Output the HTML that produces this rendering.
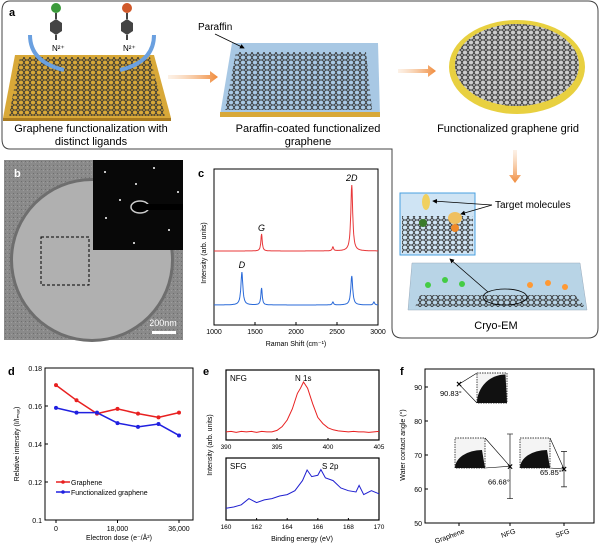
<!DOCTYPE html>
<html><head><meta charset="utf-8"><style>
html,body{margin:0;padding:0;background:#fff;width:600px;height:545px;overflow:hidden}
svg{font-family:"Liberation Sans",Arial,sans-serif}
</style></head><body>
<svg id="fig" width="600" height="545" viewBox="0 0 600 545" xmlns="http://www.w3.org/2000/svg">
<defs>
<pattern id="hex" width="6" height="5" patternUnits="userSpaceOnUse">
<path d="M0,2.5 L1.5,0 L4.5,0 L6,2.5 L4.5,5 L1.5,5 Z" fill="none" stroke="#333" stroke-width="0.9"/>
</pattern>
<pattern id="noise" width="4" height="4" patternUnits="userSpaceOnUse">
<rect width="4" height="4" fill="#8a8a8a"/><rect x="1" y="1" width="1" height="1" fill="#6e6e6e"/><rect x="3" y="2" width="1" height="1" fill="#9d9d9d"/>
</pattern>
<marker id="ah" markerWidth="6" markerHeight="6" refX="5" refY="3" orient="auto"><path d="M0,0 L6,3 L0,6 Z" fill="#000"/></marker>
<linearGradient id="og" x1="0" x2="1"><stop offset="0" stop-color="#f7d2b0" stop-opacity="0.3"/><stop offset="1" stop-color="#f08a3a"/></linearGradient>
<linearGradient id="ogv" x1="0" x2="0" y1="0" y2="1"><stop offset="0" stop-color="#f7d2b0" stop-opacity="0.3"/><stop offset="1" stop-color="#f08a3a"/></linearGradient>
</defs>

<path d="M10,1 H588 Q598,1 598,11 V328 Q598,338 588,338 H402 Q392,338 392,328 V149 H10 Q2,149 2,139 V11 Q2,1 10,1 Z" fill="none" stroke="#444" stroke-width="1"/>
<text x="9" y="16" font-size="11" font-weight="bold">a</text>

<g>
<polygon points="15,55 154,55 171,118 3,118" fill="#d8a838"/>
<polygon points="3,118 171,118 171,121 3,121" fill="#a87a20"/>
<polygon points="20,57 150,57 165,116 9,116" fill="url(#hex)"/>
</g>
<g>
<circle cx="56" cy="8" r="5" fill="#3a9a3a"/><line x1="56" y1="13" x2="56" y2="19" stroke="#444" stroke-width="2"/>
<polygon points="56,19 62,23 62,31 56,35 50,31 50,23" fill="#444"/><line x1="56" y1="35" x2="56" y2="40" stroke="#444" stroke-width="2"/>
<text x="52" y="51" font-size="8">N²⁺</text></g>
<g>
<circle cx="127" cy="8" r="5" fill="#d0582a"/><line x1="127" y1="13" x2="127" y2="19" stroke="#444" stroke-width="2"/>
<polygon points="127,19 133,23 133,31 127,35 121,31 121,23" fill="#444"/><line x1="127" y1="35" x2="127" y2="40" stroke="#444" stroke-width="2"/>
<text x="123" y="51" font-size="8">N²⁺</text></g>
<path d="M30,35 Q30,62 64,70" fill="none" stroke="#6aa0e0" stroke-width="4"/>
<path d="M154,35 Q154,62 120,70" fill="none" stroke="#6aa0e0" stroke-width="4"/>
<text x="91" y="132" font-size="11" text-anchor="middle">Graphene functionalization with</text>
<text x="91" y="145" font-size="11" text-anchor="middle">distinct ligands</text>
<polygon points="168,75 210,75 210,71 218,77 210,83 210,79 168,79" fill="url(#og)"/>

<g>
<polygon points="232,43 378,43 380,115 220,115" fill="#a8c8e4"/>
<polygon points="220,112 380,112 380,117 220,117" fill="#d8a838"/>
<polygon points="236,52 366,52 372,110 225,110" fill="url(#hex)"/>
</g>
<text x="198" y="30" font-size="10">Paraffin</text>
<line x1="215" y1="34" x2="244" y2="48" stroke="#000" stroke-width="0.8" marker-end="url(#ah)"/>
<text x="308" y="132" font-size="11" text-anchor="middle">Paraffin-coated functionalized</text>
<text x="308" y="145" font-size="11" text-anchor="middle">graphene</text>
<polygon points="398,69 428,69 428,65 436,71 428,77 428,73 398,73" fill="url(#og)"/>

<g>
<ellipse cx="517" cy="67" rx="68" ry="47" fill="#e8d040"/>
<ellipse cx="517" cy="65" rx="62" ry="41" fill="#ccc"/>
<ellipse cx="517" cy="65" rx="62" ry="41" fill="url(#hex)"/>
</g>
<text x="508" y="132" font-size="11" text-anchor="middle">Functionalized graphene grid</text>
<polygon points="513,150 517,150 517,175 521,175 515,183 509,175 513,175" fill="url(#ogv)"/>
<g>
<rect x="400" y="193" width="75" height="62" fill="#cfe4f4" stroke="#4aa0e0"/>
<rect x="402" y="216" width="71" height="37" fill="url(#hex)"/>
<ellipse cx="426" cy="202" rx="4" ry="8" fill="#f0d060"/><circle cx="423" cy="223" r="4" fill="#3a7a2a"/>
<ellipse cx="455" cy="218" rx="7" ry="6" fill="#f0c060"/><circle cx="455" cy="228" r="4" fill="#f08a2a"/>
</g>
<text x="495" y="208" font-size="10">Target molecules</text>
<line x1="492" y1="205" x2="433" y2="201" stroke="#000" stroke-width="0.8" marker-end="url(#ah)"/>
<line x1="492" y1="205" x2="461" y2="214" stroke="#000" stroke-width="0.8" marker-end="url(#ah)"/>
<g>
<polygon points="412,263 580,263 587,310 408,310" fill="#b8d4e6" stroke="#9ab" stroke-width="0.5"/>
<polygon points="420,295 575,295 585,307 415,307" fill="url(#hex)"/>
<ellipse cx="505" cy="297" rx="22" ry="8" fill="none" stroke="#000" stroke-width="0.8"/>
<circle cx="428" cy="285" r="3" fill="#4c4"/><circle cx="445" cy="280" r="3" fill="#4c4"/><circle cx="462" cy="284" r="3" fill="#4c4"/>
<circle cx="530" cy="285" r="3" fill="#f93"/><circle cx="548" cy="283" r="3" fill="#f93"/><circle cx="565" cy="287" r="3" fill="#f93"/>
</g>
<line x1="488" y1="292" x2="450" y2="259" stroke="#000" stroke-width="0.8" marker-end="url(#ah)"/>
<text x="496" y="329" font-size="11" text-anchor="middle">Cryo-EM</text>

<g>
<rect x="4" y="160" width="179" height="180" fill="url(#noise)"/>
<circle cx="92" cy="260" r="82" fill="#6e6e6e"/>
<circle cx="92" cy="260" r="79" fill="#b0b0b0"/>
<rect x="93" y="160" width="90" height="90" fill="#080808"/>
<ellipse cx="140" cy="207" rx="9" ry="6" fill="#000" stroke="#ccc" stroke-width="1.5"/>
<rect x="140" y="204" width="43" height="6" fill="#000"/>
<circle cx="105" cy="172" r="1" fill="#fff"/><circle cx="136" cy="184" r="1" fill="#fff"/><circle cx="178" cy="192" r="1" fill="#fff"/><circle cx="120" cy="200" r="1" fill="#fff"/><circle cx="106" cy="218" r="1" fill="#fff"/><circle cx="169" cy="230" r="1" fill="#fff"/><circle cx="134" cy="243" r="1" fill="#fff"/><circle cx="154" cy="168" r="1" fill="#fff"/>
<rect x="41" y="237" width="48" height="48" fill="none" stroke="#000" stroke-width="1" stroke-dasharray="3,2"/>
<text x="163" y="326" font-size="9" fill="#fff" text-anchor="middle">200nm</text>
<rect x="152" y="331" width="24" height="3" fill="#fff"/>
</g>
<text x="14" y="177" font-size="11" font-weight="bold" fill="#fff">b</text>

<g id="pc"></g>
<text x="198" y="177" font-size="11" font-weight="bold">c</text>
<g id="pd"></g>
<text x="8" y="375" font-size="11" font-weight="bold">d</text>
<g id="pe"></g>
<text x="203" y="375" font-size="11" font-weight="bold">e</text>
<g id="pf"></g>
<text x="400" y="375" font-size="11" font-weight="bold">f</text>
</svg>
<script>
// ---- data ----
const ramanTicks=[1000,1500,2000,2500,3000];
const ramanRedPeaks=[1580,2450,2680];
const ramanRedHeights=[17,4,66];
const ramanBluePeaks=[1340,1580,2450,2680,2950];
const ramanBlueHeights=[33,17,3,29,3];
const doseX=[0,6000,12000,18000,24000,30000,36000];
const graphene=[0.171,0.163,0.156,0.1585,0.156,0.154,0.1565];
const functionalized=[0.159,0.1565,0.1565,0.151,0.149,0.1505,0.1445];
const doseTicks=[0,18000,36000];
const relTicks=[0.1,0.12,0.14,0.16,0.18];
const nfgX=[390,390.5,391,391.5,392,392.5,393,393.5,394,394.5,395,395.5,396,396.5,397,397.3,397.6,398,398.5,399,399.5,400,400.5,401,401.5,402,402.5,403,403.5,404,404.5,405];
const nfgY=[0.04,0.05,0.03,0.05,0.04,0.05,0.03,0.05,0.04,0.04,0.07,0.14,0.27,0.48,0.78,0.88,1.0,0.88,0.58,0.32,0.2,0.12,0.08,0.06,0.05,0.04,0.05,0.04,0.04,0.03,0.04,0.05];
const nfgTicks=[390,395,400,405];
const sfgX=[160,160.5,161,161.5,162,162.5,163,163.5,164,164.5,165,165.3,165.6,166,166.2,166.5,167,167.5,168,168.5,168.7,169,169.5,170];
const sfgY=[0.13,0.16,0.21,0.35,0.26,0.32,0.35,0.41,0.44,0.53,0.76,1.0,0.85,0.88,1.01,0.82,0.76,0.59,0.53,0.5,0.65,0.44,0.53,0.46];
const sfgTicks=[160,162,164,166,168,170];
const angleCats=["Graphene","NFG","SFG"];
const angleVals=[90.83,66.68,65.85];
const angleErr=[0,9.5,5.2];
const angleLabels=["90.83°","66.68°","65.85°"];
const angleTicks=[50,60,70,80,90];

const NS="http://www.w3.org/2000/svg";
function mk(parent,tag,attrs,text){const e=document.createElementNS(NS,tag);for(const k in attrs)e.setAttribute(k,attrs[k]);if(text!==undefined)e.textContent=text;parent.appendChild(e);return e;}

// ---- c: Raman ----
(function(){
const g=document.getElementById('pc');
const x0=214,x1=378,y0=169,y1=325;
const sx=v=>x0+(v-1000)/2000*(x1-x0);
const box=mk(g,'rect',{x:x0,y:y0,width:x1-x0,height:y1-y0,fill:'none',stroke:'#000','stroke-width':1});

ramanTicks.forEach(t=>{mk(g,'line',{x1:sx(t),x2:sx(t),y1:y1,y2:y1-3,stroke:'#000'});
const tl=mk(g,'text',{x:sx(t),y:y1+9,'font-size':7,'text-anchor':'middle'},t);
});
function spec(peaks,hts,base,color,name){let d='';for(let v=1000;v<=3000;v+=4){let s=0;peaks.forEach((p,i)=>{const w=p===1340||p===2680?14:10;s+=hts[i]/(1+((v-p)/w)**2);});d+=(d?'L':'M')+sx(v).toFixed(1)+','+(base-s).toFixed(1);}
const p=mk(g,'path',{d:d,fill:'none',stroke:color,'stroke-width':1});
}
spec(ramanRedPeaks,ramanRedHeights,251,'#e8383a','graphene-spectrum');
spec(ramanBluePeaks,ramanBlueHeights,305,'#2a6ad8','functionalized-spectrum');
mk(g,'text',{x:sx(2680),y:181,'font-size':9,'font-style':'italic','text-anchor':'middle'},'2D');
mk(g,'text',{x:sx(1580),y:231,'font-size':9,'font-style':'italic','text-anchor':'middle'},'G');
mk(g,'text',{x:sx(1340),y:268,'font-size':9,'font-style':'italic','text-anchor':'middle'},'D');
const yl=mk(g,'text',{x:0,y:0,'font-size':7,'text-anchor':'middle',transform:'translate(206,253) rotate(-90)'},'Intensity (arb. units)');

const xl=mk(g,'text',{x:296,y:346,'font-size':7,'text-anchor':'middle'},'Raman Shift (cm⁻¹)');

})();

// ---- d: dose ----
(function(){
const g=document.getElementById('pd');
const x0=45,x1=193,y0=368,y1=520;
const sx=v=>56+v/36000*(179-56);
const sy=v=>y1-(v-0.1)/0.08*(y1-y0);
const box=mk(g,'rect',{x:x0,y:y0,width:x1-x0,height:y1-y0,fill:'none',stroke:'#000'});

relTicks.forEach(t=>{mk(g,'line',{x1:x0,x2:x0+3,y1:sy(t),y2:sy(t),stroke:'#000'});
const tl=mk(g,'text',{x:x0-3,y:sy(t)+3,'font-size':7,'text-anchor':'end'},String(t));
});
doseTicks.forEach(t=>{mk(g,'line',{x1:sx(t),x2:sx(t),y1:y1,y2:y1+3,stroke:'#000'});
const tl=mk(g,'text',{x:sx(t),y:y1+11,'font-size':7,'text-anchor':'middle'},t===0?'0':t.toLocaleString('en-US'));
});
function series(vals,color,name){let d='';vals.forEach((v,i)=>{d+=(i?'L':'M')+sx(doseX[i])+','+sy(v);});
const p=mk(g,'path',{d:d,fill:'none',stroke:color,'stroke-width':1.5,'stroke-linejoin':'round'});

vals.forEach((v,i)=>{const c=mk(g,'circle',{cx:sx(doseX[i]),cy:sy(v),r:2,fill:color});
});}
series(graphene,'#e82020','graphene');
series(functionalized,'#2020e0','functionalized');
[['#e82020','Graphene',482],['#2020e0','Functionalized graphene',492]].forEach(l=>{
const lg=mk(g,'g',{});
mk(lg,'line',{x1:56,x2:70,y1:l[2],y2:l[2],stroke:l[0],'stroke-width':1.5});mk(lg,'circle',{cx:63,cy:l[2],r:1.8,fill:l[0]});
mk(lg,'text',{x:71,y:l[2]+3,'font-size':7},l[1]);});
const yl=mk(g,'text',{x:0,y:0,'font-size':7,'text-anchor':'middle',transform:'translate(19,444) rotate(-90)'},'Relative intensity (I/Iₘₐₓ)');

const xl=mk(g,'text',{x:119,y:540,'font-size':7,'text-anchor':'middle'},'Electron dose (e⁻/Å²)');

})();

// ---- e: XPS ----
(function(){
const g=document.getElementById('pe');
function panel(xs,ys,ticks,xmin,xmax,top,bot,color,label,peak,name){
const x0=226,x1=379;
const sx=v=>x0+(v-xmin)/(xmax-xmin)*(x1-x0);
const sy=v=>bot-6-v*(bot-top-18);
const box=mk(g,'rect',{x:x0,y:top,width:x1-x0,height:bot-top,fill:'none',stroke:'#000','stroke-width':1.2});

ticks.forEach(t=>{mk(g,'line',{x1:sx(t),x2:sx(t),y1:bot,y2:bot-2,stroke:'#000'});
const tl=mk(g,'text',{x:sx(t),y:bot+9,'font-size':6.5,'text-anchor':'middle'},t);
});
let d='';xs.forEach((v,i)=>{d+=(i?'L':'M')+sx(v).toFixed(1)+','+sy(ys[i]).toFixed(1);});
const p=mk(g,'path',{d:d,fill:'none',stroke:color,'stroke-width':1});

mk(g,'text',{x:x0+4,y:top+11,'font-size':8},label);
const pk=mk(g,'text',{x:peak[0],y:top+11,'font-size':8},peak[1]);
}
panel(nfgX,nfgY,nfgTicks,390,405,370,440,'#e82020','NFG',[295,'N 1s'],'nfg');
panel(sfgX,sfgY,sfgTicks,160,170,458,520,'#2020d0','SFG',[322,'S 2p'],'sfg');
const yl=mk(g,'text',{x:0,y:0,'font-size':7,'text-anchor':'middle',transform:'translate(212,445) rotate(-90)'},'Intensity (arb. units)');

const xl=mk(g,'text',{x:302,y:541,'font-size':7,'text-anchor':'middle'},'Binding energy (eV)');

})();

// ---- f: contact angle ----
(function(){
const g=document.getElementById('pf');
const x0=425,x1=594,y0=369,y1=523;
const sy=v=>y1-(v-50)/40*(y1-387);
const cx=[459,510,564];
const box=mk(g,'rect',{x:x0,y:y0,width:x1-x0,height:y1-y0,fill:'none',stroke:'#000'});

angleTicks.forEach(t=>{mk(g,'line',{x1:x0,x2:x0+3,y1:sy(t),y2:sy(t),stroke:'#000'});
const tl=mk(g,'text',{x:x0-3,y:sy(t)+3,'font-size':7,'text-anchor':'end'},t);
});
const insets=[[477,373,30,30],[455,438,30,30],[520,438,30,30]];
insets.forEach((r,i)=>{const ig=mk(g,'g',{});
mk(ig,'rect',{x:r[0],y:r[1],width:r[2],height:r[3],fill:'#f4f4f4',stroke:'#000','stroke-width':0.7,'stroke-dasharray':'1.5,1'});
const e=i===0?r[2]*0.95:r[2]*0.9;
mk(ig,'path',{d:`M${r[0]},${r[1]+r[3]} A${e},${i===0?r[3]*0.95:r[3]*0.6} 0 0 1 ${r[0]+e},${r[1]+r[3]-(i===0?r[3]*0.95:r[3]*0.6)} L${r[0]+r[2]},${r[1]+r[3]} Z`,fill:'#111'});});
mk(g,'line',{x1:cx[0],y1:sy(angleVals[0]),x2:477,y2:373,stroke:'#000','stroke-width':0.6});
mk(g,'line',{x1:cx[0],y1:sy(angleVals[0]),x2:477,y2:403,stroke:'#000','stroke-width':0.6});
mk(g,'line',{x1:cx[1],y1:sy(angleVals[1]),x2:485,y2:438,stroke:'#000','stroke-width':0.6});
mk(g,'line',{x1:cx[1],y1:sy(angleVals[1]),x2:485,y2:468,stroke:'#000','stroke-width':0.6});
mk(g,'line',{x1:cx[2],y1:sy(angleVals[2]),x2:550,y2:438,stroke:'#000','stroke-width':0.6});
mk(g,'line',{x1:cx[2],y1:sy(angleVals[2]),x2:550,y2:468,stroke:'#000','stroke-width':0.6});
angleVals.forEach((v,i)=>{
if(angleErr[i]>0){const eb=mk(g,'path',{d:`M${cx[i]},${sy(v+angleErr[i])}V${sy(v-angleErr[i])}M${cx[i]-3},${sy(v+angleErr[i])}h6M${cx[i]-3},${sy(v-angleErr[i])}h6`,stroke:'#333','stroke-width':0.8,fill:'none'});
}
const m=mk(g,'text',{x:cx[i],y:sy(v)+3.5,'font-size':10,'font-weight':'bold','text-anchor':'middle'},'×');

const lx=[440,488,540][i],ly=[sy(v)+12,sy(v)+18,sy(v)+6][i];
const lb=mk(g,'text',{x:lx,y:ly,'font-size':7.5,'text-anchor':'start'},angleLabels[i]);

mk(g,'line',{x1:cx[i],x2:cx[i],y1:y1,y2:y1+3,stroke:'#000'});
const cl=mk(g,'text',{x:0,y:0,'font-size':7,'text-anchor':'end',transform:`translate(${cx[i]+6},${y1+10}) rotate(-20)`},angleCats[i]);
});
const yl=mk(g,'text',{x:0,y:0,'font-size':7,'text-anchor':'middle',transform:'translate(405,445) rotate(-90)'},'Water contact angle (°)');

})();
</script>
</body></html>
